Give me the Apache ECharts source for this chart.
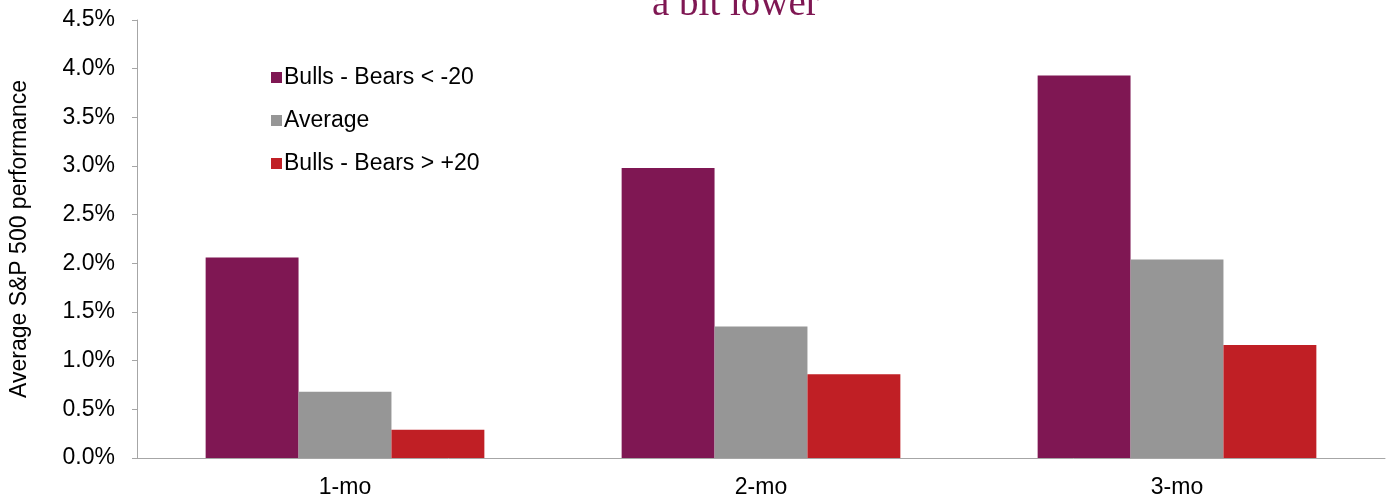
<!DOCTYPE html>
<html>
<head>
<meta charset="utf-8">
<script src="https://cdn.jsdelivr.net/npm/echarts@6/dist/echarts.min.js"></script>
<style>
html, body { margin: 0; padding: 0; background: #fff; }
#main { width: 1387px; height: 499px; }
</style>
</head>
<body>
<div id="main"></div>
<script>
var categories = ['1-mo', '2-mo', '3-mo'];
var bearishValues = [2.06, 2.98, 3.93];
var averageValues = [0.68, 1.35, 2.04];
var bullishValues = [0.29, 0.86, 1.16];
var seriesNames = ['Bulls - Bears < -20', 'Average', 'Bulls - Bears > +20'];

var myChart = echarts.init(document.getElementById('main'));
var axisGrey = '#a6a6a6';
var option = {
	animation: false,
	textStyle: { fontFamily: 'Liberation Sans, Arial, sans-serif' },
	title: {
		text: 'a bit lower',
		left: 647,
		top: -20,
		textStyle: {
			fontFamily: 'Liberation Serif, Times New Roman, serif',
			fontWeight: 'normal',
			fontSize: 39,
			color: '#7f1753'
		}
	},
	grid: { left: 136, right: 2, top: 20, bottom: 40 },
	legend: {
		orient: 'vertical',
		left: 266,
		top: 61,
		itemGap: 20,
		itemWidth: 11,
		itemHeight: 11,
		icon: 'rect',
		textStyle: { fontSize: 23, color: '#000', padding: [0, 0, 0, -3] },
		data: seriesNames
	},
	xAxis: {
		type: 'category',
		data: categories,
		axisLine: { lineStyle: { color: axisGrey } },
		axisTick: { length: 6, lineStyle: { color: axisGrey } },
		axisLabel: { fontSize: 23, color: '#000', margin: 18 }
	},
	yAxis: {
		type: 'value',
		min: 0,
		max: 0.045,
		interval: 0.005,
		name: 'Average S&P 500 performance',
		nameLocation: 'middle',
		nameGap: 106,
		nameTextStyle: { fontSize: 23, color: '#000' },
		splitLine: { show: false },
		axisLine: { show: true, lineStyle: { color: axisGrey } },
		axisTick: { show: true, length: 5, lineStyle: { color: axisGrey } },
		axisLabel: {
			fontSize: 23,
			color: '#000',
			margin: 22,
			formatter: function (v) { return (v * 100).toFixed(1) + '%'; }
		}
	},
	series: [
		{ name: seriesNames[0], type: 'bar', data: bearishValues.map(function (v) { return v / 100; }),
		  itemStyle: { color: '#7f1753' }, barGap: '0%', barCategoryGap: '33%' },
		{ name: seriesNames[1], type: 'bar', data: averageValues.map(function (v) { return v / 100; }),
		  itemStyle: { color: '#969696' }, barGap: '0%', barCategoryGap: '33%' },
		{ name: seriesNames[2], type: 'bar', data: bullishValues.map(function (v) { return v / 100; }),
		  itemStyle: { color: '#c01f25' }, barGap: '0%', barCategoryGap: '33%' }
	]
};
myChart.setOption(option);
</script>
</body>
</html>
